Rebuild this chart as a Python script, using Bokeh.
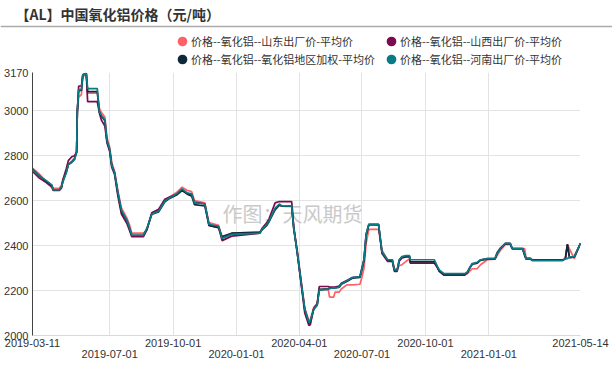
import pandas as pd
from bokeh.plotting import figure
from bokeh.layouts import column
from bokeh.models import (Range1d, FixedTicker, Label, Legend, LegendItem, Span,
                          DatetimeAxis, DatetimeTickFormatter)
from bokeh.embed import file_html
from bokeh.resources import INLINE

# ---------------- data ----------------
dates = [
    "2019-03-11", "2019-03-21", "2019-03-31", "2019-04-08", "2019-04-10", "2019-04-19",
    "2019-04-22", "2019-04-24", "2019-04-29", "2019-05-02", "2019-05-07", "2019-05-11",
    "2019-05-14", "2019-05-15", "2019-05-17", "2019-05-21", "2019-05-23", "2019-05-28",
    "2019-05-30", "2019-06-13", "2019-06-16", "2019-06-19", "2019-06-24", "2019-06-27",
    "2019-07-01", "2019-07-04", "2019-07-08", "2019-07-13", "2019-07-18", "2019-07-26",
    "2019-07-30", "2019-08-02", "2019-08-19", "2019-08-24", "2019-08-31", "2019-09-10",
    "2019-09-19", "2019-09-26", "2019-10-06", "2019-10-14", "2019-10-21", "2019-10-28",
    "2019-11-01", "2019-11-16", "2019-11-22", "2019-12-06", "2019-12-11", "2019-12-25",
    "2020-02-04", "2020-02-07", "2020-02-14", "2020-02-17", "2020-02-26", "2020-03-03",
    "2020-03-07", "2020-03-21", "2020-03-24", "2020-03-29", "2020-04-05", "2020-04-09",
    "2020-04-15", "2020-04-17", "2020-04-22", "2020-04-27", "2020-04-30", "2020-05-13",
    "2020-05-15", "2020-05-21", "2020-05-23", "2020-05-29", "2020-06-01", "2020-06-09",
    "2020-06-17", "2020-06-28", "2020-07-01", "2020-07-04", "2020-07-07", "2020-07-11",
    "2020-07-25", "2020-07-30", "2020-08-07", "2020-08-14", "2020-08-17", "2020-08-21",
    "2020-08-24", "2020-08-28", "2020-09-03", "2020-09-08", "2020-09-09", "2020-10-14",
    "2020-10-18", "2020-10-21", "2020-10-28", "2020-11-27", "2020-12-01", "2020-12-04",
    "2020-12-08", "2020-12-15", "2020-12-20", "2020-12-30", "2021-01-10", "2021-01-13",
    "2021-01-18", "2021-01-25", "2021-02-01", "2021-02-04", "2021-02-19", "2021-02-22",
    "2021-02-24", "2021-03-02", "2021-03-05", "2021-04-18", "2021-04-22", "2021-04-25",
    "2021-04-28", "2021-05-05", "2021-05-14",
]

shandong = [
    2745, 2718, 2682, 2665, 2655, 2655, 2668, 2692, 2730, 2762, 2776, 2790,
    2822, 2990, 3060, 3072, 3150, 3165, 3078, 3078, 3010, 2992, 2972, 2882,
    2838, 2770, 2732, 2642, 2568, 2522, 2490, 2455, 2455, 2470, 2542, 2556,
    2602, 2616, 2636, 2660, 2646, 2640, 2600, 2590, 2502, 2490, 2436, 2455,
    2460, 2476, 2500, 2512, 2560, 2580, 2575, 2575, 2482, 2382, 2216, 2122,
    2066, 2070, 2125, 2142, 2202, 2205, 2171, 2171, 2193, 2193, 2207, 2225,
    2225, 2228, 2260, 2300, 2410, 2472, 2472, 2380, 2337, 2337, 2295, 2295,
    2310, 2315, 2330, 2340, 2325, 2325, 2305, 2290, 2272, 2272, 2275, 2285,
    2297, 2297, 2315, 2337, 2340, 2355, 2380, 2405, 2405, 2387, 2387, 2387,
    2345, 2345, 2337, 2337, 2340, 2405, 2385, 2342, 2410,
]

shanxi = [
    2730, 2700, 2680, 2660, 2646, 2646, 2655, 2692, 2742, 2778, 2795, 2800,
    2815, 2995, 3110, 3110, 3160, 3165, 3040, 3040, 2990, 2958, 2932, 2858,
    2818, 2748, 2718, 2618, 2540, 2498, 2465, 2440, 2440, 2470, 2546, 2562,
    2606, 2616, 2628, 2650, 2632, 2628, 2592, 2586, 2490, 2480, 2422, 2442,
    2455, 2476, 2502, 2518, 2590, 2596, 2596, 2596, 2482, 2370, 2198, 2100,
    2045, 2048, 2120, 2140, 2218, 2218, 2215, 2215, 2215, 2220, 2232, 2245,
    2258, 2262, 2300, 2340, 2450, 2495, 2495, 2365, 2330, 2330, 2285, 2285,
    2330, 2345, 2350, 2350, 2322, 2322, 2305, 2285, 2268, 2268, 2280, 2300,
    2318, 2322, 2335, 2342, 2342, 2368, 2390, 2410, 2410, 2385, 2385, 2355,
    2340, 2340, 2335, 2335, 2342, 2405, 2345, 2350, 2410,
]

weighted = [
    2740, 2710, 2686, 2668, 2648, 2648, 2660, 2684, 2725, 2760, 2772, 2785,
    2815, 2995, 3090, 3090, 3160, 3165, 3085, 3085, 2995, 2975, 2955, 2865,
    2825, 2756, 2725, 2630, 2550, 2510, 2475, 2446, 2446, 2475, 2540, 2550,
    2595, 2610, 2625, 2645, 2630, 2620, 2582, 2576, 2490, 2480, 2440, 2455,
    2460, 2470, 2490, 2505, 2560, 2580, 2575, 2575, 2475, 2370, 2205, 2115,
    2055, 2060, 2117, 2135, 2205, 2208, 2210, 2212, 2212, 2215, 2228, 2240,
    2255, 2258, 2295, 2335, 2445, 2492, 2492, 2370, 2335, 2335, 2290, 2290,
    2335, 2350, 2352, 2352, 2328, 2328, 2305, 2288, 2272, 2272, 2282, 2298,
    2318, 2322, 2335, 2340, 2340, 2365, 2387, 2408, 2408, 2387, 2387, 2360,
    2342, 2342, 2335, 2335, 2342, 2405, 2348, 2350, 2410,
]

henan = [
    2738, 2711, 2689, 2670, 2648, 2648, 2661, 2684, 2725, 2760, 2770, 2783,
    2815, 2995, 3094, 3094, 3160, 3165, 3098, 3098, 2995, 2980, 2960, 2869,
    2828, 2756, 2725, 2635, 2558, 2513, 2477, 2446, 2446, 2477, 2540, 2553,
    2598, 2612, 2630, 2652, 2635, 2630, 2590, 2585, 2495, 2486, 2432, 2450,
    2455, 2472, 2495, 2508, 2567, 2585, 2576, 2576, 2477, 2373, 2207, 2117,
    2058, 2065, 2117, 2135, 2202, 2205, 2210, 2212, 2212, 2215, 2230, 2243,
    2258, 2262, 2300, 2340, 2450, 2495, 2495, 2373, 2337, 2337, 2292, 2292,
    2337, 2351, 2355, 2355, 2337, 2337, 2310, 2292, 2275, 2275, 2283, 2300,
    2320, 2325, 2337, 2342, 2342, 2365, 2387, 2410, 2410, 2387, 2387, 2360,
    2342, 2342, 2333, 2333, 2342, 2342, 2350, 2350, 2410,
]

series_names = [
    "价格--氧化铝--山东出厂价-平均价",
    "价格--氧化铝--山西出厂价-平均价",
    "价格--氧化铝--氧化铝地区加权-平均价",
    "价格--氧化铝--河南出厂价-平均价",
]
series_colors = ["#FF6166", "#7A0B50", "#0E2A3A", "#0A7A84"]

title_text = "【AL】中国氧化铝价格（元/吨）"
watermark_text = "作图：天风期货"

y_ticks = [2000, 2200, 2400, 2600, 2800, 3000, 3170]
x_ticks_row1 = ["2019-03-11", "2019-10-01", "2020-04-01", "2020-10-01", "2021-05-14"]
x_ticks_row2 = ["2019-07-01", "2020-01-01", "2020-07-01", "2021-01-01"]


def ms(d):
    return pd.Timestamp(d).value / 1e6


W = 612
HEAD_H = 68
MAIN_H = 376 - HEAD_H
ML, MR, MT, MB = 32, 32, 4, 41
CJK = "Noto Sans CJK SC"
LAT = "Liberation Sans"

# ---------------- header: title, rule, legend ----------------
head = figure(
    width=W, height=HEAD_H, x_range=Range1d(0, W), y_range=Range1d(HEAD_H, 0),
    x_axis_location=None, y_axis_location=None,
    output_backend="svg", toolbar_location=None,
    min_border_left=0, min_border_right=0, min_border_top=0, min_border_bottom=0,
)
head.frame_align = False
head.outline_line_color = None
head.xgrid.visible = False
head.ygrid.visible = False

head.add_layout(Label(
    x=15, y=13, text=title_text, text_font=CJK, text_font_size="14px",
    text_font_style="bold", text_color="#333333", text_baseline="middle",
))
head.add_layout(Span(location=26, dimension="width", line_color="#aaaaaa", line_width=1.3))

nan = float("nan")
markers = [head.scatter(x=[nan], y=[nan], marker="circle", size=7,
                        fill_color=c, line_color=c, line_width=2.5)
           for c in series_colors]
leg_common = dict(
    orientation="vertical", glyph_width=18, glyph_height=18, label_standoff=0,
    spacing=0, padding=0, margin=0, border_line_color=None, background_fill_alpha=0,
    label_text_font=CJK, label_text_font_size="11px",
    label_text_color="#333333", label_height=14,
)
leg1 = Legend(items=[LegendItem(label=series_names[0], renderers=[markers[0]]),
                     LegendItem(label=series_names[2], renderers=[markers[2]])],
              location=(173, 0), **leg_common)
leg2 = Legend(items=[LegendItem(label=series_names[1], renderers=[markers[1]]),
                     LegendItem(label=series_names[3], renderers=[markers[3]])],
              location=(382, 0), **leg_common)
head.add_layout(leg1)
head.add_layout(leg2)

# ---------------- main chart ----------------
p = figure(
    width=W, height=MAIN_H,
    x_axis_type="datetime",
    x_range=Range1d(ms(x_ticks_row1[0]), ms(x_ticks_row1[-1])),
    y_range=Range1d(y_ticks[0], y_ticks[-1]),
    output_backend="svg", toolbar_location=None,
    min_border_left=ML, min_border_right=MR, min_border_top=MT, min_border_bottom=MB,
)
p.frame_align = False
p.outline_line_color = None

fmt = DatetimeTickFormatter(
    milliseconds="%Y-%m-%d", seconds="%Y-%m-%d", minsec="%Y-%m-%d", minutes="%Y-%m-%d",
    hourmin="%Y-%m-%d", hours="%Y-%m-%d", days="%Y-%m-%d", months="%Y-%m-%d",
    years="%Y-%m-%d",
)

xa = p.xaxis[0]
xa.ticker = FixedTicker(ticks=[ms(d) for d in x_ticks_row1])
xa.formatter = fmt
xa.axis_line_color = "#d9d9d9"
xa.major_label_standoff = 3

xb = DatetimeAxis(ticker=FixedTicker(ticks=[ms(d) for d in x_ticks_row2]), formatter=fmt)
xb.axis_line_color = None
xb.major_label_standoff = 0
p.add_layout(xb, "below")

ya = p.yaxis[0]
ya.ticker = FixedTicker(ticks=y_ticks)
ya.axis_line_color = "#444444"
ya.major_label_standoff = 4

for ax in (xa, xb, ya):
    ax.major_tick_in = 0
    ax.major_tick_out = 0
    ax.minor_tick_in = 0
    ax.minor_tick_out = 0
    ax.major_tick_line_color = None
    ax.minor_tick_line_color = None
    ax.major_label_text_font = LAT
    ax.major_label_text_font_size = "11px"
    ax.major_label_text_color = "#333333"

inner_x = sorted(ms(d) for d in x_ticks_row1[1:-1] + x_ticks_row2)
p.xgrid.ticker = FixedTicker(ticks=inner_x)
p.ygrid.ticker = FixedTicker(ticks=y_ticks[1:-1])
p.xgrid.grid_line_color = "#e3e3e3"
p.ygrid.grid_line_color = "#e3e3e3"

# watermark (under the lines)
p.add_layout(Label(
    x=222 - ML, x_units="screen", y=2543, y_units="data",
    text=watermark_text, text_font=CJK, text_font_size="20px",
    text_color="#c9c9c9", text_baseline="middle", level="underlay",
))

xs = pd.to_datetime(dates)
for vals, col in zip([shandong, shanxi, weighted, henan], series_colors):
    p.line(xs, vals, line_color=col, line_width=1.7)

layout = column(head, p, spacing=0)
open("out.html", "w").write(file_html(layout, INLINE))
